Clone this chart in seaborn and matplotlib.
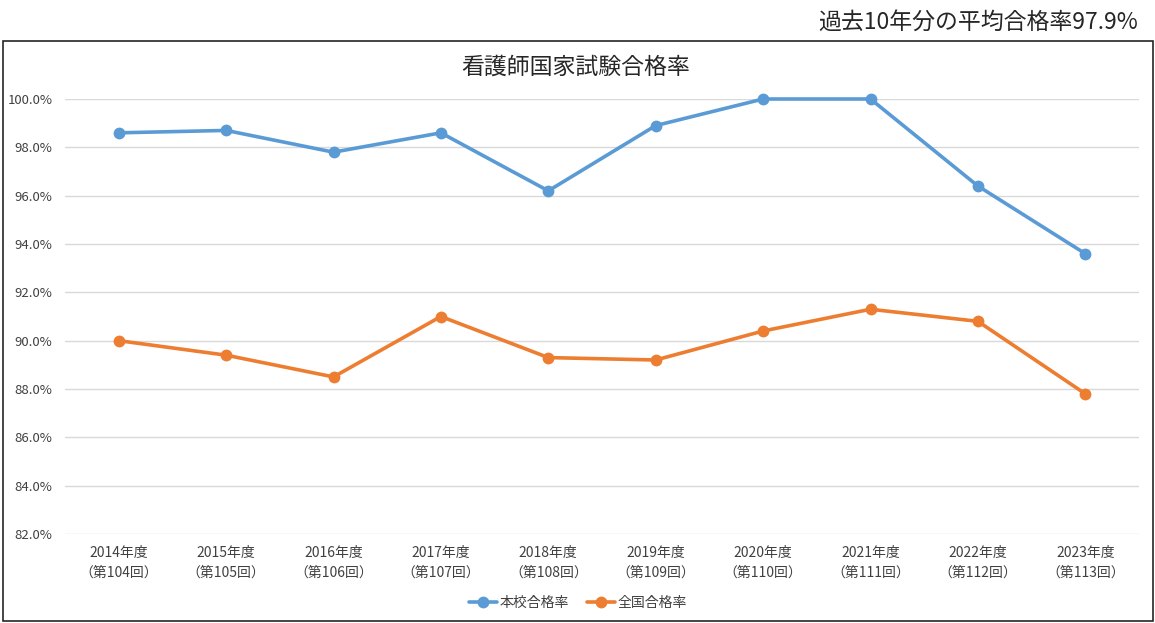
import numpy as np
import pandas as pd
import matplotlib
matplotlib.use('Agg')
import matplotlib.pyplot as plt
import matplotlib.patches as patches
import seaborn as sns

# data
years = ['2014', '2015', '2016', '2017', '2018', '2019', '2020', '2021', '2022', '2023']
rounds = ['104', '105', '106', '107', '108', '109', '110', '111', '112', '113']
school_rate = [98.6, 98.7, 97.8, 98.6, 96.2, 98.9, 100.0, 100.0, 96.4, 93.6]
national_rate = [90.0, 89.4, 88.5, 91.0, 89.3, 89.2, 90.4, 91.3, 90.8, 87.8]
series_names = ['本校合格率', '全国合格率']

tick_labels = [y + '年度\n（第' + r + '回）' for y, r in zip(years, rounds)]

df = pd.DataFrame({'idx': list(range(len(years))) * 2,
                   'rate': school_rate + national_rate,
                   'series': [series_names[0]] * len(years) + [series_names[1]] * len(years)})

sns.set_style('white')
plt.rcParams['font.family'] = ['Noto Sans CJK JP', 'DejaVu Sans']

fig = plt.figure(figsize=(11.55, 6.23), dpi=100)
ax = fig.add_axes([65 / 1155, 1 - 534 / 623, (1139 - 65) / 1155, (534 - 99) / 623])

sns.lineplot(data=df, x='idx', y='rate', hue='series', ax=ax,
             palette=['#5B9BD5', '#ED7D31'], marker='o', markersize=8.5,
             markeredgewidth=0, linewidth=2.6, clip_on=False)

ax.set_xlim(-0.5, len(years) - 0.5)
ax.set_ylim(82, 100)
ax.set_yticks(np.arange(82, 100.1, 2))
ax.set_yticklabels([f'{v:.1f}%' for v in np.arange(82, 100.1, 2)], fontsize=9.5, color='#404040')
ax.set_xticks(range(len(years)))
ax.set_xticklabels(tick_labels, fontsize=10, color='#404040', linespacing=1.5)
ax.tick_params(axis='y', length=0, pad=9)
ax.tick_params(axis='x', length=0, pad=9)
ax.grid(axis='y', color='#d9d9d9', linewidth=1)
ax.set_axisbelow(True)
for s in ax.spines.values():
    s.set_visible(False)
ax.set_xlabel('')
ax.set_ylabel('')

ax.legend(loc='upper center', bbox_to_anchor=(0.478, -0.114), ncol=2, frameon=False,
          fontsize=10, handlelength=2.0, columnspacing=1.3, handletextpad=0.2,
          labelcolor='#404040')

fig.text(576 / 1155, 1 - 67 / 623, '看護師国家試験合格率', ha='center', va='center',
         fontsize=16.5, color='#262626')
fig.text(1138 / 1155, 1 - 22 / 623, '過去10年分の平均合格率97.9%', ha='right', va='center',
         fontsize=16.5, color='#262626')

# chart frame
fig.add_artist(patches.Rectangle((3 / 1155, 1 - 621 / 623), 1150 / 1155, 580 / 623,
                                 transform=fig.transFigure, fill=False,
                                 edgecolor='#262626', linewidth=1.2))

fig.savefig('out.png', dpi=100)
